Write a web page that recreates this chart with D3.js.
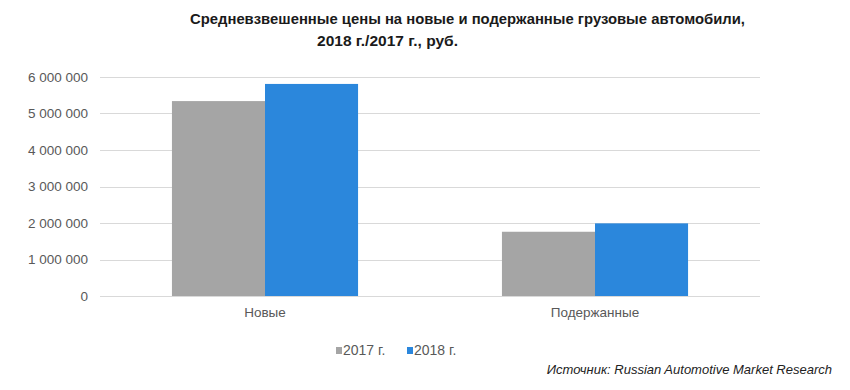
<!DOCTYPE html>
<html>
<head>
<meta charset="utf-8">
<script src="https://cdn.jsdelivr.net/npm/d3@7"></script>
<style>
body { margin:0; background:#ffffff; }
text { font-family:"Liberation Sans", Arial, sans-serif; }
</style>
</head>
<body>
<svg></svg>
<script>
var screen = {width:850,height:390}
var margins = {top:77,right:90,bottom:94,left:100}

var categories = ["Новые","Подержанные"]
var seriesNames = ["2017 г.","2018 г."]
var values2017 = [5340000,1760000]
var values2018 = [5810000,1990000]
var yTicks = [0,1000000,2000000,3000000,4000000,5000000,6000000]
var colors = ["#a5a5a5","#2b87dc"]

var titleLines = ["Средневзвешенные цены на новые и подержанные грузовые автомобили,","2018 г./2017 г., руб."]
var sourceText = "Источник: Russian Automotive Market Research"

var setup = function()
{
 var svg = d3.select("svg")
   .attr("width",screen.width)
   .attr("height",screen.height)

 var width = screen.width - margins.left - margins.right;
 var height = screen.height - margins.top - margins.bottom;

 var graph = svg.append("g")
   .attr("id","graph")
   .attr("transform","translate("+margins.left+","+margins.top+")");

 var xScale = d3.scaleBand()
                .domain(categories)
                .range([0,width])
                .paddingInner(0.436)
                .paddingOuter(0.218)

 var xSub = d3.scaleBand()
              .domain(seriesNames)
              .range([0,xScale.bandwidth()])

 var yScale = d3.scaleLinear()
                .domain([0,6000000])
                .range([height,0])

 var fmt = function(d){ return d3.format(",")(d).replace(/,/g," ") }

 // gridlines
 graph.append("g")
   .selectAll("line")
   .data(yTicks)
   .enter()
   .append("line")
   .attr("x1",0)
   .attr("x2",width)
   .attr("y1",function(d){return Math.round(yScale(d))+0.5})
   .attr("y2",function(d){return Math.round(yScale(d))+0.5})
   .attr("stroke","#d9d9d9")
   .attr("stroke-width",1)

 var yAxis = d3.axisLeft(yScale)
               .tickValues(yTicks)
               .tickSize(0)
               .tickPadding(12)
               .tickFormat(fmt)

 var yG = graph.append("g")
   .attr("id","yAxis")
   .call(yAxis)
 yG.select(".domain").remove()
 yG.selectAll("text")
   .attr("fill","#595959")
   .style("font-size","13.5px")

 var table = categories.map(function(c,i){
   return {cat:c, vals:[{s:seriesNames[0],v:values2017[i]},{s:seriesNames[1],v:values2018[i]}]}
 })

 var groups = graph.selectAll(".cat")
   .data(table)
   .enter()
   .append("g")
   .attr("class","cat")
   .attr("transform",function(d){return "translate("+xScale(d.cat)+",0)"})

 groups.selectAll("rect")
   .data(function(d){return d.vals})
   .enter()
   .append("rect")
   .attr("x",function(d){return xSub(d.s)})
   .attr("width",xSub.bandwidth())
   .attr("y",function(d){return yScale(d.v)})
   .attr("height",function(d){return height-yScale(d.v)})
   .attr("fill",function(d,i){return colors[i]})

 var xAxis = d3.axisBottom(xScale)
               .tickSize(0)
               .tickPadding(11)
 var xG = graph.append("g")
   .attr("id","xAxis")
   .attr("transform","translate(0,"+height+")")
   .call(xAxis)
 xG.select(".domain").remove()
 xG.selectAll("text")
   .attr("fill","#595959")
   .style("font-size","13.5px")

 // legend
 var legendX = [336,407]
 var legend = svg.append("g")
   .selectAll("g")
   .data(seriesNames)
   .enter()
   .append("g")
   .attr("transform",function(d,i){return "translate("+legendX[i]+",347)"})
 legend.append("rect")
   .attr("width",6)
   .attr("height",7)
   .attr("fill",function(d,i){return colors[i]})
 legend.append("text")
   .attr("x",7)
   .attr("y",7.5)
   .attr("fill","#595959")
   .style("font-size","14px")
   .text(function(d){return d})

 // title
 var titleX = [190,317]
 var titleY = [24,46]
 var titleW = [555,141]
 svg.selectAll(".title")
   .data(titleLines)
   .enter()
   .append("text")
   .attr("class","title")
   .attr("x",function(d,i){return titleX[i]})
   .attr("y",function(d,i){return titleY[i]})
   .attr("textLength",function(d,i){return titleW[i]})
   .attr("lengthAdjust","spacingAndGlyphs")
   .attr("fill","#1a1a1a")
   .style("font-size","14.5px")
   .style("font-weight","bold")
   .text(function(d){return d})

 svg.append("text")
   .attr("x",832)
   .attr("y",374)
   .attr("text-anchor","end")
   .attr("fill","#222")
   .style("font-size","13px")
   .style("font-style","italic")
   .text(sourceText)
}

setup()
</script>
</body>
</html>
